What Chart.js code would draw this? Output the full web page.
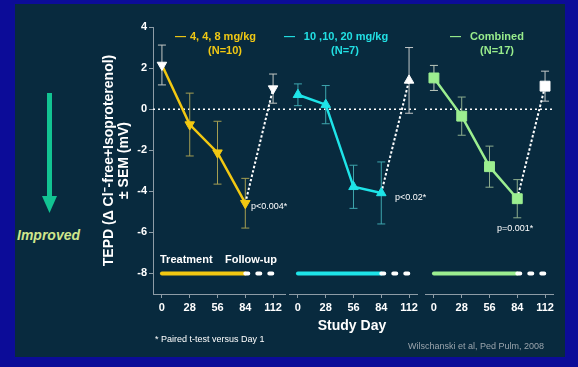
<!DOCTYPE html>
<html>
<head>
<meta charset="utf-8">
<script src="https://cdn.jsdelivr.net/npm/chart.js@4.4.0/dist/chart.umd.min.js"></script>
<style>
  html, body { margin: 0; padding: 0; }
  body { width: 578px; height: 367px; background: #0c0c98; position: relative; overflow: hidden;
         font-family: "Liberation Sans", Arial, sans-serif; }
  #panel { position: absolute; left: 15px; top: 4px; width: 550px; height: 353px; background: #082a3e; }
  canvas { position: absolute; top: 0; }
  .t { position: absolute; white-space: nowrap; line-height: 1; }
  .c { transform: translateX(-50%); }
  .b { font-weight: bold; }
</style>
</head>
<body>
<div id="panel"></div>

<svg style="position:absolute;left:38px;top:90px" width="24" height="126">
  <rect x="9" y="3" width="5" height="108" fill="#12c392"></rect>
  <polygon points="4,106 19,106 11.5,123" fill="#12c392"></polygon>
</svg>
<div class="t b" style="left:17px;top:228px;font-size:14px;font-style:italic;color:#cfe68c">Improved</div>

<canvas id="c1" width="193" height="367" style="left:95px"></canvas>
<canvas id="c2" width="131" height="367" style="left:289px"></canvas>
<canvas id="c3" width="131" height="367" style="left:425px"></canvas>

<div class="t b" style="left:175px;top:31px;font-size:11px;color:#f0c814">&#8212;</div>
<div class="t b c" style="left:223px;top:31px;font-size:11px;color:#f0c814">4, 4, 8 mg/kg</div>
<div class="t b c" style="left:225px;top:45px;font-size:11px;color:#f0c814">(N=10)</div>

<div class="t b" style="left:284px;top:31px;font-size:11px;color:#22e0e4">&#8212;</div>
<div class="t b c" style="left:346px;top:31px;font-size:11px;color:#22e0e4">10 ,10, 20 mg/kg</div>
<div class="t b c" style="left:345px;top:45px;font-size:11px;color:#22e0e4">(N=7)</div>

<div class="t b" style="left:450px;top:31px;font-size:11px;color:#98ec8c">&#8212;</div>
<div class="t b c" style="left:497px;top:31px;font-size:11px;color:#98ec8c">Combined</div>
<div class="t b c" style="left:497px;top:45px;font-size:11px;color:#98ec8c">(N=17)</div>

<div class="t" style="left:251px;top:202px;font-size:9px;color:#fff">p&lt;0.004*</div>
<div class="t" style="left:395px;top:193px;font-size:9px;color:#fff">p&lt;0.02*</div>
<div class="t" style="left:497px;top:224px;font-size:9px;color:#fff">p=0.001*</div>

<div class="t b" style="left:160px;top:254px;font-size:11px;color:#fff">Treatment</div>
<div class="t b" style="left:225px;top:254px;font-size:11px;color:#fff">Follow-up</div>

<div class="t b c" style="left:352px;top:318px;font-size:14px;color:#fff">Study Day</div>
<div class="t" style="left:155px;top:335px;font-size:9px;color:#fff">* Paired t-test versus Day 1</div>
<div class="t" style="left:408px;top:342px;font-size:9px;color:#9aa4ac">Wilschanski et al, Ped Pulm, 2008</div>

<script>
const days = [0, 28, 56, 84, 112];
const yTicks = [-8, -6, -4, -2, 0, 2, 4];

const lowMean = [2.15, -0.75, -2.12, -4.58, 1.0];
const lowSem = [0.97, 1.53, 1.53, 1.21, 0.71];
const highMean = [0.7, 0.22, -3.78, -4.08, 1.4];
const highSem = [0.53, 0.93, 1.05, 1.51, 1.6];
const combMean = [1.52, -0.34, -2.8, -4.36, 1.12];
const combSem = [0.61, 0.93, 1.0, 0.93, 0.73];

const treatDays = [0, 84];
const followDays = [84, 112];
const barLevel = -8;

const AXIS = "#8d9ca6";
const FONT = "Liberation Sans";
const WHITE = "#ffffff";

function panel(id, mean, sem, o) {
  const pts = days.map((d, i) => ({ x: d, y: mean[i] }));
  const err = [];
  days.forEach((d, i) => {
    err.push({ x: d, y: mean[i] - sem[i] }, { x: d, y: mean[i] + sem[i] }, { x: d, y: null });
  });
  const errCol = err.map((_, i) => o.errColors[Math.floor(i / 3)]);

  const datasets = [
    {
      data: pts,
      pointStyle: o.marker,
      rotation: o.rot,
      pointRadius: o.radius,
      pointBackgroundColor: o.pointColors,
      pointBorderColor: o.pointColors,
      pointBorderWidth: 1,
      showLine: false,
    },
    {
      data: pts.slice(0, 4),
      showLine: true,
      borderColor: o.color,
      borderWidth: 2.5,
      pointRadius: 0,
    },
    {
      data: pts.slice(3),
      showLine: true,
      borderColor: WHITE,
      borderWidth: 2,
      borderDash: [2.5, 2],
      pointRadius: 0,
    },
    {
      data: err,
      showLine: true,
      spanGaps: false,
      borderWidth: 1,
      segment: { borderColor: (ctx) => o.errColors[Math.floor(ctx.p0DataIndex / 3)] },
      pointStyle: "line",
      pointRadius: 4,
      pointBorderWidth: 1,
      pointBorderColor: errCol,
    },
    {
      data: followDays.map((d) => ({ x: d, y: barLevel })),
      showLine: true,
      borderColor: WHITE,
      borderWidth: 4,
      borderCapStyle: "round",
      borderDash: [3, 9],
      pointRadius: 0,
    },
    {
      data: treatDays.map((d) => ({ x: d, y: barLevel })),
      showLine: true,
      borderColor: o.color,
      borderWidth: 4,
      borderCapStyle: "round",
      pointRadius: 0,
    },
    {
      data: [{ x: -9, y: 0 }, { x: o.xMax, y: 0 }],
      showLine: true,
      borderColor: WHITE,
      borderWidth: 1.5,
      borderDash: [2, 3],
      pointRadius: 0,
    },
  ];

  new Chart(document.getElementById(id), {
    type: "scatter",
    data: { datasets: datasets },
    options: {
      responsive: false,
      animation: false,
      devicePixelRatio: 1,
      layout: { autoPadding: false, padding: { top: 27, bottom: 33, left: 0, right: 3 } },
      plugins: { legend: { display: false }, tooltip: { enabled: false } },
      scales: {
        x: {
          type: "linear",
          min: -9,
          max: o.xMax,
          afterBuildTicks: (s) => { s.ticks = days.map((v) => ({ value: v })); },
          afterFit: (s) => { s.height = 40; s.paddingLeft = 0; s.paddingRight = 0; },
          grid: { drawOnChartArea: false, color: AXIS, tickLength: 4 },
          border: { color: AXIS },
          ticks: {
            color: WHITE,
            padding: 3,
            maxRotation: 0,
            autoSkip: false,
            font: { family: FONT, size: 11, weight: "bold" },
            callback: (v) => String(v),
          },
        },
        y: {
          min: -9,
          max: 4,
          display: o.showY,
          afterBuildTicks: (s) => { s.ticks = yTicks.map((v) => ({ value: v })); },
          afterFit: (s) => { s.width = o.showY ? 58 : 0; },
          grid: { drawOnChartArea: false, color: AXIS, tickLength: 4 },
          border: { color: AXIS },
          ticks: {
            color: WHITE,
            padding: 2,
            font: { family: FONT, size: 11, weight: "bold" },
            callback: (v) => String(v),
          },
          title: {
            display: true,
            text: ["TEPD (\u0394 Cl\u207B-free+Isoproterenol)", "\u00B1 SEM (mV)"],
            color: WHITE,
            font: { family: FONT, size: 14, weight: "bold", lineHeight: 1.1 },
            padding: { top: 6, bottom: 0 },
          },
        },
      },
    },
  });
}

const Y = "#f2c812";
const C = "#1ee4e8";
const G = "#9cee90";

panel("c1", lowMean, lowSem, {
  xMax: 124, showY: true, color: Y, marker: "triangle", rot: 180, radius: 5.5,
  pointColors: [WHITE, Y, Y, Y, WHITE],
  errColors: ["#c4c8c4", "#a49e52", "#a49e52", "#a49e52", "#c4c8c4"],
});
panel("c2", highMean, highSem, {
  xMax: 120, showY: false, color: C, marker: "triangle", rot: 0, radius: 5.5,
  pointColors: [C, C, C, C, WHITE],
  errColors: ["#3ea6ae", "#3ea6ae", "#3ea6ae", "#3ea6ae", "#c4c8c8"],
});
panel("c3", combMean, combSem, {
  xMax: 120, showY: false, color: G, marker: "rect", rot: 0, radius: 7,
  pointColors: [G, G, G, G, WHITE],
  errColors: ["#bcc8bc", "#8eae8e", "#8eae8e", "#8eae8e", "#c4c8c8"],
});
</script>
</body>
</html>
